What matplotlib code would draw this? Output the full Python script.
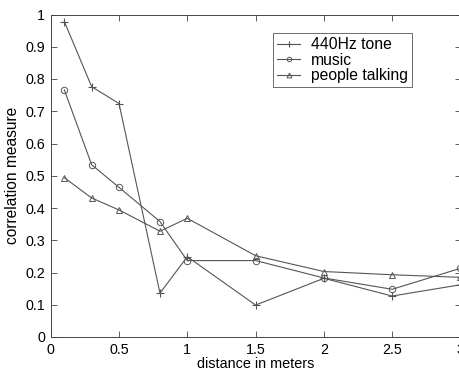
import matplotlib
matplotlib.use("Agg")
import matplotlib.pyplot as plt

plt.rcParams['font.family'] = ['Liberation Sans', 'DejaVu Sans']

distance = [0.1, 0.3, 0.5, 0.8, 1.0, 1.5, 2.0, 2.5, 3.0]
tone = [0.978, 0.776, 0.724, 0.136, 0.249, 0.099, 0.182, 0.127, 0.162]
music = [0.766, 0.534, 0.464, 0.358, 0.237, 0.237, 0.183, 0.148, 0.213]
talking = [0.494, 0.431, 0.394, 0.328, 0.368, 0.252, 0.203, 0.193, 0.185]
xticks = [0, 0.5, 1, 1.5, 2, 2.5, 3]
yticks = [0, 0.1, 0.2, 0.3, 0.4, 0.5, 0.6, 0.7, 0.8, 0.9, 1]

fig = plt.figure(figsize=(4.6, 3.69), dpi=100)
ax = fig.add_axes([50.7/460, 32/369, 409.8/460, 322.5/369])
c = '#555555'
ax.plot(distance, tone, color=c, lw=0.8, marker='+', ms=6, mew=0.8, label='440Hz tone')
ax.plot(distance, music, color=c, lw=0.8, marker='o', ms=4.6, mew=0.7, mfc='none', label='music')
ax.plot(distance, talking, color=c, lw=0.8, marker='^', ms=5, mew=0.7, mfc='none', label='people talking')
ax.set_xlim(0, 3)
ax.set_ylim(0, 1)
ax.set_xticks(xticks)
ax.set_xticklabels(['0', '0.5', '1', '1.5', '2', '2.5', '3'])
ax.set_yticks(yticks)
ax.set_yticklabels(['0', '0.1', '0.2', '0.3', '0.4', '0.5', '0.6', '0.7', '0.8', '0.9', '1'])
ax.tick_params(direction='in', top=True, right=True, labelsize=10.3, length=4, width=0.6, color='#444444', pad=4)
for s in ax.spines.values():
    s.set_linewidth(0.7)
    s.set_color('#444444')
ax.set_xlabel('distance in meters', fontsize=10.4, labelpad=0.5)
ax.set_ylabel('correlation measure', fontsize=11.2, labelpad=4)
leg = ax.legend(loc='upper left', bbox_to_anchor=((273.3-50.7)/409.8, (337-33.3)/322.5),
                fontsize=11.3, frameon=True, fancybox=False, borderpad=0.25, labelspacing=0.03,
                handlelength=1.45, handletextpad=0.7, borderaxespad=0, markerscale=0.7)
leg.get_frame().set_edgecolor('#444444')
leg.get_frame().set_linewidth(0.7)
fig.savefig('out.png', dpi=100)
